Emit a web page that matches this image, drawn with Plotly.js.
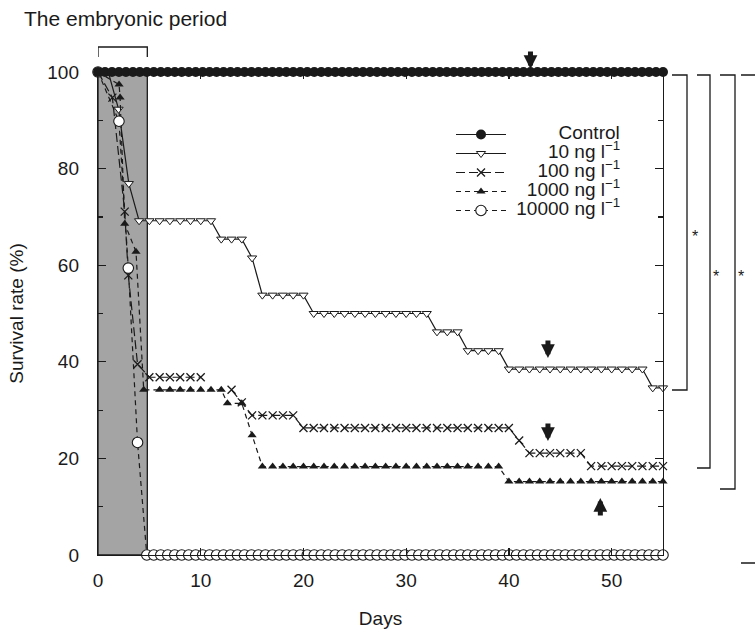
<!DOCTYPE html>
<html>
<head>
<meta charset="utf-8">
<script src="https://cdn.plot.ly/plotly-3.0.1.min.js"></script>
<style>html,body{margin:0;padding:0;background:#fff}#chart{width:755px;height:631px}</style>
</head>
<body>
<div id="chart"></div>
<script>
// ---- data ----
const seriesNames = ['Control', '10 ng l<sup>\u22121</sup>', '100 ng l<sup>\u22121</sup>', '1000 ng l<sup>\u22121</sup>', '10000 ng l<sup>\u22121</sup>'];

const controlDays = [0,0.68,1.36,2.04,2.72,3.40,4.07,4.75,5.43,6.11,6.79,7.47,8.15,8.83,9.51,10.19,10.86,11.54,12.22,12.90,13.58,14.26,14.94,15.62,16.30,16.98,17.65,18.33,19.01,19.69,20.37,21.05,21.73,22.41,23.09,23.77,24.44,25.12,25.80,26.48,27.16,27.84,28.52,29.20,29.88,30.56,31.23,31.91,32.59,33.27,33.95,34.63,35.31,35.99,36.67,37.35,38.02,38.70,39.38,40.06,40.74,41.42,42.10,42.78,43.46,44.14,44.81,45.49,46.17,46.85,47.53,48.21,48.89,49.57,50.25,50.93,51.60,52.28,52.96,53.64,54.32,55.00];
const controlRate = [100,100,100,100,100,100,100,100,100,100,100,100,100,100,100,100,100,100,100,100,100,100,100,100,100,100,100,100,100,100,100,100,100,100,100,100,100,100,100,100,100,100,100,100,100,100,100,100,100,100,100,100,100,100,100,100,100,100,100,100,100,100,100,100,100,100,100,100,100,100,100,100,100,100,100,100,100,100,100,100,100,100];

const ng10Days = [0,1,2,3,4,5,6,7,8,9,10,11,12,13,14,15,16,17,18,19,20,21,22,23,24,25,26,27,28,29,30,31,32,33,34,35,36,37,38,39,40,41,42,43,44,45,46,47,48,49,50,51,52,53,54,55];
const ng10Rate = [100,100,92.3,76.9,69.2,69.2,69.2,69.2,69.2,69.2,69.2,69.2,65.4,65.4,65.4,61.5,53.8,53.8,53.8,53.8,53.8,50,50,50,50,50,50,50,50,50,50,50,50,46.2,46.2,46.2,42.3,42.3,42.3,42.3,38.5,38.5,38.5,38.5,38.5,38.5,38.5,38.5,38.5,38.5,38.5,38.5,38.5,38.5,34.6,34.6];

const ng100Days = [0,1.4,2.6,2.95,3.85,5,6,7,8,9,10,11,12,13,14,15,16,17,18,19,20,21,22,23,24,25,26,27,28,29,30,31,32,33,34,35,36,37,38,39,40,41,42,43,44,45,46,47,48,49,50,51,52,53,54,55];
const ng100Rate = [100,94.7,71.1,57.9,39.5,36.8,36.8,36.8,36.8,36.8,36.8,null,null,34.2,31.6,28.9,28.9,28.9,28.9,28.9,26.3,26.3,26.3,26.3,26.3,26.3,26.3,26.3,26.3,26.3,26.3,26.3,26.3,26.3,26.3,26.3,26.3,26.3,26.3,26.3,26.3,23.7,21.1,21.1,21.1,21.1,21.1,21.1,18.4,18.4,18.4,18.4,18.4,18.4,18.4,18.4];

const ng1000Days = [0,2.05,2.15,2.6,3.7,4.45,6,7,8,9,10,11,12,12.6,14,15,16,17,18,19,20,21,22,23,24,25,26,27,28,29,30,31,32,33,34,35,36,37,38,39,40,41,42,43,44,45,46,47,48,49,50,51,52,53,54,55];
const ng1000Rate = [100,97.4,94.7,68.6,62.8,34.2,34.2,34.2,34.2,34.2,34.2,34.2,34.2,31.4,31.4,24.8,18.3,18.3,18.3,18.3,18.3,18.3,18.3,18.3,18.3,18.3,18.3,18.3,18.3,18.3,18.3,18.3,18.3,18.3,18.3,18.3,18.3,18.3,18.3,18.3,15.2,15.2,15.2,15.2,15.2,15.2,15.2,15.2,15.2,15.2,15.2,15.2,15.2,15.2,15.2,15.2];

const ng10000Days = [0,2.04,2.95,3.85,4.75,5.43,6.11,6.79,7.47,8.15,8.83,9.51,10.19,10.86,11.54,12.22,12.90,13.58,14.26,14.94,15.62,16.30,16.98,17.65,18.33,19.01,19.69,20.37,21.05,21.73,22.41,23.09,23.77,24.44,25.12,25.80,26.48,27.16,27.84,28.52,29.20,29.88,30.56,31.23,31.91,32.59,33.27,33.95,34.63,35.31,35.99,36.67,37.35,38.02,38.70,39.38,40.06,40.74,41.42,42.10,42.78,43.46,44.14,44.81,45.49,46.17,46.85,47.53,48.21,48.89,49.57,50.25,50.93,51.60,52.28,52.96,53.64,54.32,55.00];
const ng10000Rate = [100,89.8,59.4,23.3,0,0,0,0,0,0,0,0,0,0,0,0,0,0,0,0,0,0,0,0,0,0,0,0,0,0,0,0,0,0,0,0,0,0,0,0,0,0,0,0,0,0,0,0,0,0,0,0,0,0,0,0,0,0,0,0,0,0,0,0,0,0,0,0,0,0,0,0,0,0,0,0,0,0,0];

const embryonicEnd = 4.8;   // end of the embryonic period (days)
const xTicks = [0,10,20,30,40,50];

// ---- styling ----
const FONT = 'Liberation Sans, Arial, Helvetica, sans-serif';
const INK = '#1a1a1a';
const LEGEND_PX = 19;
const nb = n => '\u00A0'.repeat(n);
const legendLabel = (pad, name) => '<span style="font-size:' + LEGEND_PX + 'px">' + nb(pad) + name + '</span>';
const legendPads = [9, 7, 5, 3, 1];

function mk(i, days, rate, line, marker) {
  return {
    type: 'scatter', mode: 'lines+markers', x: days, y: rate,
    name: legendLabel(legendPads[i], seriesNames[i]), legendrank: i + 1,
    line: Object.assign({color: INK, width: 1.2}, line),
    marker: marker, cliponaxis: false, connectgaps: false, hoverinfo: 'skip'
  };
}

const traces = [
  mk(1, ng10Days, ng10Rate, {dash: 'solid'},
     {symbol: 'triangle-down', size: 8, color: '#fff', line: {color: INK, width: 1}}),
  mk(2, ng100Days, ng100Rate, {dash: '9px,4px'},
     {symbol: 'x-thin-open', size: 8, color: INK, line: {color: INK, width: 1.3}}),
  mk(3, ng1000Days, ng1000Rate, {dash: '5px,4px'},
     {symbol: 'triangle-up', size: 8, color: INK, line: {width: 0}}),
  mk(4, ng10000Days, ng10000Rate, {dash: '5px,4px'},
     {symbol: 'circle', size: 10.5, color: '#fff', line: {color: INK, width: 1.1}}),
  mk(0, controlDays, controlRate, {dash: 'solid'},
     {symbol: 'circle', size: 10, color: INK, line: {width: 0}})
];

// paper-coordinate helpers for decorations outside the plot
const L = 98, R = 92, T = 72, B = 76, W = 755, H = 631;
const pw = W - L - R, ph = H - T - B;
const px2x = px => (px - L) / pw;
const py2y = py => (H - B - py) / ph;

function bracket(x0, x1, yTop, yBot) {
  return {type: 'path', xref: 'paper', yref: 'paper',
    path: 'M' + px2x(x0) + ',' + py2y(yTop) + ' H' + px2x(x1) + ' V' + py2y(yBot) + ' H' + px2x(x0),
    line: {color: INK, width: 1.3}};
}

const shapes = [
  {type: 'rect', xref: 'x', yref: 'y', x0: 0, x1: embryonicEnd, y0: 0, y1: 100,
   fillcolor: '#a4a4a4', line: {color: INK, width: 1.3}, layer: 'below'},
  {type: 'path', xref: 'x', yref: 'paper',
   path: 'M0,' + py2y(57) + ' V' + py2y(47) + ' H' + embryonicEnd + ' V' + py2y(57),
   line: {color: INK, width: 1.3}},
  bracket(672, 687, 75, 390),
  bracket(697, 710, 75, 468),
  bracket(720, 735, 75, 489),
  bracket(741, 770, 75, 563)
];

function arrow(x, y, ay, yref) {
  return {x: x, y: y, xref: 'x', yref: yref || 'y', text: '', showarrow: true,
    ax: 0, ay: ay, arrowhead: 2, arrowwidth: 5, arrowsize: 0.55, arrowcolor: INK, standoff: 0};
}
function star(px, py) {
  return {x: px2x(px), y: py2y(py), xref: 'paper', yref: 'paper', text: '*', showarrow: false,
    font: {family: FONT, size: 16, color: INK}, xanchor: 'center', yanchor: 'middle'};
}

const annotations = [
  {x: px2x(22), y: py2y(18), xref: 'paper', yref: 'paper', text: 'The embryonic period',
   showarrow: false, xanchor: 'left', yanchor: 'middle', font: {family: FONT, size: 21, color: INK}},
  arrow(42.1, py2y(69), -19, 'paper'),
  arrow(43.8, 40.8, -19),
  arrow(43.8, 23.6, -19),
  arrow(48.9, 11.8, 19),
  star(695, 236), star(716, 276), star(741, 276)
];

const layout = {
  width: W, height: H,
  margin: {l: L, r: R, t: T, b: B, pad: 0},
  paper_bgcolor: '#fff', plot_bgcolor: 'rgba(0,0,0,0)',
  font: {family: FONT, size: 19, color: INK},
  showlegend: true,
  legend: {x: px2x(451), y: py2y(120), xanchor: 'left', yanchor: 'top',
    bgcolor: 'rgba(0,0,0,0)', borderwidth: 0, itemwidth: 50,
    font: {family: FONT, size: 12, color: INK}, traceorder: 'normal', itemclick: false},
  xaxis: {
    range: [0, 55], tickvals: xTicks, ticks: 'inside', ticklen: 7, tickwidth: 1.2, tickcolor: INK,
    showline: true, linecolor: INK, linewidth: 1.2, mirror: 'ticks', showgrid: false, zeroline: false,
    ticklabelstandoff: 8,
    title: {text: 'Days', standoff: 21, font: {family: FONT, size: 19, color: INK}}
  },
  yaxis: {
    range: [0, 100], dtick: 20, tick0: 0, ticks: 'inside', ticklen: 8, tickwidth: 1.2, tickcolor: INK,
    minor: {dtick: 10, ticks: 'inside', ticklen: 5, tickwidth: 1.2, tickcolor: INK},
    showline: true, linecolor: INK, linewidth: 1.2, mirror: 'ticks', showgrid: false, zeroline: false,
    ticklabelstandoff: 14,
    title: {text: 'Survival rate (%)', standoff: 18, font: {family: FONT, size: 19, color: INK}}
  },
  shapes: shapes,
  annotations: annotations
};

Plotly.newPlot('chart', traces, layout, {displayModeBar: false, staticPlot: true});
</script>
</body>
</html>
